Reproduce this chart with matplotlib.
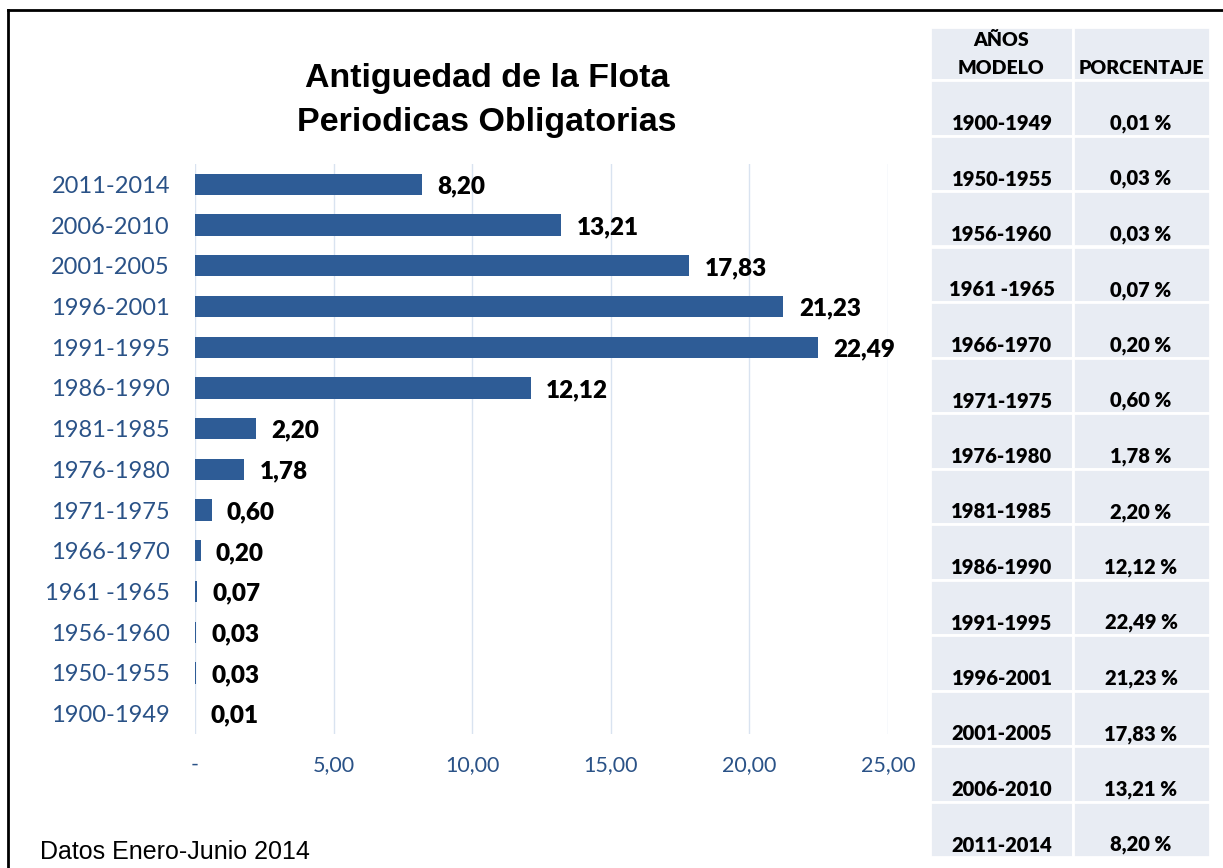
import matplotlib.pyplot as plt
from matplotlib.patches import Rectangle
from matplotlib.lines import Line2D

# datos
periodos = ["1900-1949", "1950-1955", "1956-1960", "1961 -1965", "1966-1970",
            "1971-1975", "1976-1980", "1981-1985", "1986-1990", "1991-1995",
            "1996-2001", "2001-2005", "2006-2010", "2011-2014"]
porcentajes = [0.01, 0.03, 0.03, 0.07, 0.20, 0.60, 1.78, 2.20, 12.12, 22.49,
               21.23, 17.83, 13.21, 8.20]
xticks = [0, 5, 10, 15, 20, 25]
xtick_labels = ["-", "5,00", "10,00", "15,00", "20,00", "25,00"]

W, H = 1223, 868
cuerpo = "Lato"
azul = "#2E5C96"
azul_txt = "#2A5287"

def fmt(v):
    return f"{v:.2f}".replace(".", ",")

fig = plt.figure(figsize=(W / 100, H / 100), dpi=100)

# marco
fig.add_artist(Line2D([8 / W, 8 / W], [0, 1 - 10 / H], color="black", lw=2, transform=fig.transFigure))
fig.add_artist(Line2D([8 / W, 1], [1 - 10 / H, 1 - 10 / H], color="black", lw=2, transform=fig.transFigure))

ax = fig.add_axes([195 / W, 1 - 734 / H, 693 / W, 570 / H])
y = list(range(len(periodos)))
ax.barh(y, porcentajes, height=0.52, color=azul, zorder=3)
ax.set_xlim(0, 25)
ax.set_ylim(-0.5, len(periodos) - 0.5)
for x in xticks:
    ax.axvline(x, color="#D9E3F0", lw=1.0, zorder=1)
for s in ax.spines.values():
    s.set_visible(False)
ax.set_xticks(xticks)
ax.set_xticklabels(xtick_labels, fontsize=15.5, color=azul_txt, family=cuerpo)
ax.set_yticks(y)
ax.set_yticklabels(periodos, fontsize=17, color=azul_txt, family=cuerpo)
ax.tick_params(axis="x", length=0, pad=15)
ax.tick_params(axis="y", length=0, pad=18)
for yi, v in zip(y, porcentajes):
    ax.annotate(fmt(v), (v, yi), xytext=(11, -1.5), textcoords="offset points",
                ha="left", va="center", fontsize=17.5, fontweight="heavy",
                family=cuerpo, color="black", annotation_clip=False)

# titulo
fig.text(487 / W, 1 - 79 / H, "Antiguedad de la Flota", ha="center", va="center",
         fontsize=24.5, fontweight="bold", family="Liberation Sans")
fig.text(487 / W, 1 - 123 / H, "Periodicas Obligatorias", ha="center", va="center",
         fontsize=24.5, fontweight="bold", family="Liberation Sans")
fig.text(40 / W, 1 - 852 / H, "Datos Enero-Junio 2014", ha="left", va="center",
         fontsize=18, family="Liberation Sans")

# tabla
celda = "#E8ECF3"
x0, x1, x2 = 930, 1073, 1210
top, hdr_bot, bot = 27, 80, 857
alto = (bot - hdr_bot) / len(periodos)

def rect(xa, ya, xb, yb):
    fig.add_artist(Rectangle((xa / W, 1 - yb / H), (xb - xa) / W, (yb - ya) / H,
                             transform=fig.transFigure, facecolor=celda, edgecolor="white", lw=2))

rect(x0, top, x1, hdr_bot)
rect(x1, top, x2, hdr_bot)
fig.text(1001 / W, 1 - 40 / H, "AÑOS", ha="center", va="center", fontsize=14,
         fontweight="heavy", family=cuerpo)
fig.text(1001 / W, 1 - 68 / H, "MODELO", ha="center", va="center", fontsize=14,
         fontweight="heavy", family=cuerpo)
fig.text(1141 / W, 1 - 68 / H, "PORCENTAJE", ha="center", va="center", fontsize=14,
         fontweight="heavy", family=cuerpo)
for i, (p, v) in enumerate(zip(periodos, porcentajes)):
    ya = hdr_bot + i * alto
    yb = ya + alto
    rect(x0, ya, x1, yb)
    rect(x1, ya, x2, yb)
    fig.text(1002 / W, 1 - (yb - 12) / H, p, ha="center", va="center", fontsize=14.5,
             fontweight="heavy", family=cuerpo)
    fig.text(1141 / W, 1 - (yb - 12) / H, fmt(v) + " %", ha="center", va="center",
             fontsize=14.5, fontweight="heavy", family=cuerpo)

fig.savefig("out.png", dpi=100)
